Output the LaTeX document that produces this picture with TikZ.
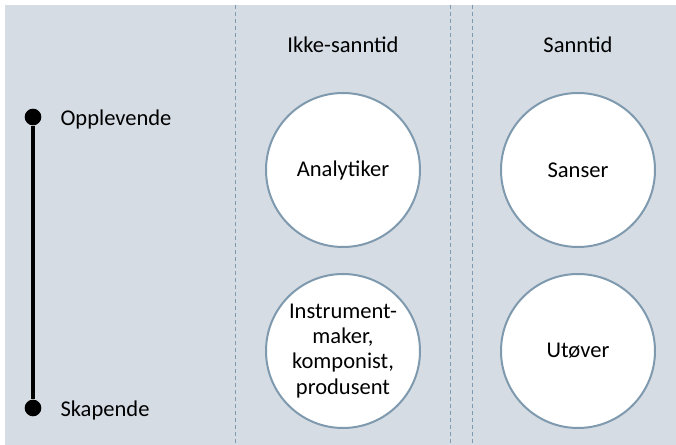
\documentclass[tikz,border=0pt]{standalone}
\usepackage{fontspec}
\setmainfont{Carlito}
\usetikzlibrary{positioning}
\definecolor{bgblue}{HTML}{D5DCE4}
\definecolor{edgeblue}{HTML}{7F9AAE}

\begin{document}
\begin{tikzpicture}[x=0.75pt,y=-0.75pt,
		txt/.style={font=\fontsize{16.9pt}{18.8pt}\selectfont, align=center, inner sep=0pt},
		rolle/.style={txt, circle, draw=edgeblue, line width=1.5pt, fill=white, minimum size=115.5pt},
		skille/.style={edgeblue, line width=0.75pt, dash pattern=on 3pt off 2.25pt},
		prikk/.style={circle, fill=black, inner sep=0pt, minimum size=12.5pt}]
		\useasboundingbox (0,0) rectangle (676,445);
		\fill[bgblue] (5,5) rectangle (676,445);
		% skillelinjer
		\foreach \x in {235,450,472}
		\draw[skille] (\x,5) -- (\x,445);
		% akse
		\node[prikk] (opp) at (33,117) {};
		\node[prikk] (skap) at (33,408) {};
		\draw[line width=2.5pt] (opp) -- (skap);
		\node[txt, right=14pt of opp, yshift=-2pt] (opptxt) {Opplevende};
		\node[txt, right=14pt of skap, yshift=-1.5pt] (skaptxt) {Skapende};
		% kolonner
		\node[txt] (ikke) at (343,45) {Ikke-sanntid};
		\node[txt] (sann) at (578,45) {Sanntid};
		\node[rolle] (analytiker) at (343,170) {Analytiker};
		\node[rolle] (sanser) at (578,170) {Sanser};
		\node[rolle] (instrument) at (343,351) {Instrument-\\maker,\\komponist,\\produsent};
		\node[rolle] (utover) at (578,351) {Utøver};
	\end{tikzpicture}
\end{document}
